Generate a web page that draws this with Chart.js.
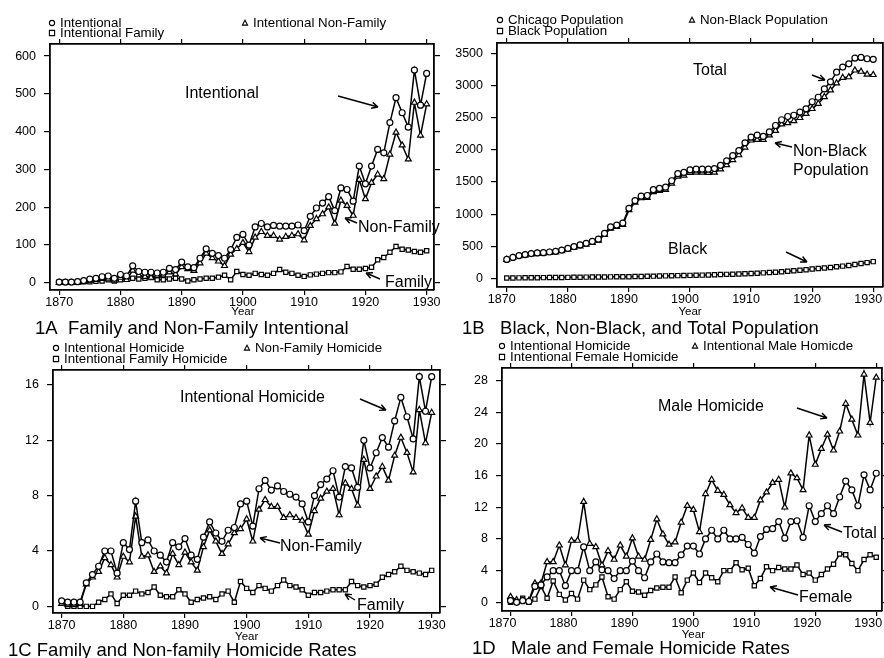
<!DOCTYPE html>
<html>
<head>
<meta charset="utf-8">
<script src="https://cdn.jsdelivr.net/npm/chart.js@4.4.1/dist/chart.umd.min.js"></script>
<style>
  html, body { margin: 0; padding: 0; background: #fff; overflow: hidden; width: 884px; height: 658px; }
  canvas { position: absolute; left: 0; top: 0; }
</style>
</head>
<body>
<canvas id="p1a" width="900" height="680"></canvas>
<canvas id="p1b" width="900" height="680"></canvas>
<canvas id="p1c" width="900" height="680"></canvas>
<canvas id="p1d" width="900" height="680"></canvas>
<script>
// years 1870-1930
const years = [1870, 1871, 1872, 1873, 1874, 1875, 1876, 1877, 1878, 1879,
  1880, 1881, 1882, 1883, 1884, 1885, 1886, 1887, 1888, 1889,
  1890, 1891, 1892, 1893, 1894, 1895, 1896, 1897, 1898, 1899,
  1900, 1901, 1902, 1903, 1904, 1905, 1906, 1907, 1908, 1909,
  1910, 1911, 1912, 1913, 1914, 1915, 1916, 1917, 1918, 1919,
  1920, 1921, 1922, 1923, 1924, 1925, 1926, 1927, 1928, 1929, 1930];
const yearTicks = [1870, 1880, 1890, 1900, 1910, 1920, 1930];

// 1A counts
const intentional = [2, 2, 2, 3, 6, 10, 12, 16, 18, 12,
  22, 18, 45, 30, 28, 28, 26, 28, 38, 35,
  55, 42, 40, 65, 90, 78, 72, 65, 88, 120,
  128, 100, 148, 157, 148, 152, 150, 150, 150, 153,
  138, 176, 198, 211, 228, 191, 251, 247, 216, 309,
  262, 309, 353, 344, 424, 490, 450, 412, 563, 470, 554];
const intentionalNonFamily = [0, 0, 0, 1, 3, 6, 8, 11, 10, 6,
  14, 8, 33, 20, 16, 14, 18, 20, 28, 23,
  42, 37, 32, 52, 78, 66, 57, 45, 75, 90,
  106, 82, 120, 135, 125, 125, 115, 122, 125, 129,
  113, 151, 169, 182, 200, 157, 218, 204, 178, 273,
  222, 265, 287, 275, 340, 398, 364, 327, 477, 390, 473];
const intentionalFamily = [2, 2, 2, 2, 3, 3, 4, 5, 8, 5,
  8, 10, 12, 10, 12, 14, 8, 8, 10, 12,
  10, 5, 8, 10, 12, 12, 15, 20, 8, 30,
  22, 20, 25, 22, 20, 25, 35, 28, 25, 20,
  17, 21, 23, 25, 27, 27, 29, 43, 36, 36,
  38, 41, 61, 67, 81, 96, 89, 87, 83, 81, 85];
const ticks1A = [0, 100, 200, 300, 400, 500, 600];

// 1B population (thousands)
const chicagoPop = [295, 325, 355, 370, 385, 395, 400, 410, 420, 440,
  465, 495, 520, 545, 575, 610, 700, 800, 830, 860,
  1090, 1210, 1280, 1290, 1380, 1400, 1420, 1520, 1630, 1650,
  1690, 1700, 1700, 1700, 1710, 1760, 1830, 1910, 1990, 2110,
  2200, 2230, 2210, 2280, 2380, 2470, 2520, 2540, 2590, 2640,
  2750, 2820, 2950, 3060, 3210, 3290, 3340, 3430, 3440, 3420, 3410];
const nonBlackPop = [290, 320, 348, 362, 376, 385, 390, 398, 407, 426,
  450, 479, 502, 526, 555, 590, 678, 776, 805, 834,
  1064, 1180, 1250, 1256, 1345, 1363, 1380, 1478, 1586, 1604,
  1645, 1650, 1648, 1645, 1650, 1700, 1765, 1845, 1920, 2040,
  2150, 2160, 2160, 2230, 2300, 2400, 2420, 2450, 2500, 2565,
  2640, 2720, 2825, 2930, 3040, 3125, 3135, 3240, 3220, 3175, 3170];
const blackPop = [5, 6, 7, 8, 9, 10, 11, 12, 13, 14,
  15, 16, 18, 19, 20, 21, 22, 23, 24, 25,
  26, 28, 30, 32, 34, 36, 38, 40, 42, 44,
  46, 48, 50, 53, 56, 59, 62, 65, 68, 72,
  76, 80, 85, 90, 96, 102, 110, 118, 126, 135,
  145, 152, 160, 170, 180, 190, 200, 215, 230, 245, 260];
const ticks1B = [0, 500, 1000, 1500, 2000, 2500, 3000, 3500];

// 1C rates
const homRate = [0.4, 0.3, 0.3, 0.3, 1.7, 2.3, 2.9, 4.0, 4.0, 2.4,
  4.6, 4.1, 7.6, 4.6, 4.8, 4.0, 3.7, 3.2, 4.6, 4.3,
  4.9, 3.7, 3.4, 5.0, 6.1, 5.3, 4.7, 5.5, 5.7, 7.4,
  7.6, 5.8, 8.5, 9.1, 8.4, 8.7, 8.3, 8.1, 7.9, 7.4,
  6.1, 8.0, 8.8, 9.2, 9.8, 7.9, 10.1, 10.0, 8.6, 12.0,
  10.0, 11.1, 12.2, 11.5, 13.4, 15.1, 13.7, 12.1, 16.6, 14.1, 16.6];
const nonFamilyRate = [0.2, 0.1, 0.1, 0.2, 1.6, 2.1, 2.5, 3.5, 3.0, 2.1,
  3.6, 3.2, 6.5, 3.6, 3.7, 2.5, 2.9, 2.4, 3.8, 3.0,
  3.9, 3.2, 2.6, 4.3, 5.5, 4.7, 3.8, 4.5, 5.3, 5.6,
  6.3, 4.7, 7.0, 7.7, 7.2, 7.2, 6.4, 6.6, 6.4, 6.2,
  5.2, 6.9, 7.8, 8.3, 8.5, 6.6, 8.9, 8.5, 7.3, 10.6,
  8.5, 9.4, 10.1, 9.1, 10.9, 12.2, 11.1, 9.7, 14.2, 11.8, 14.0];
const familyRate = [0.3, 0.0, 0.0, 0.0, 0.0, 0.0, 0.3, 0.5, 0.9, 0.2,
  0.8, 0.8, 1.1, 0.9, 1.0, 1.4, 0.8, 0.7, 0.7, 1.2,
  0.9, 0.3, 0.5, 0.6, 0.7, 0.5, 0.9, 1.1, 0.3, 1.8,
  1.3, 1.0, 1.5, 1.3, 1.1, 1.5, 1.9, 1.5, 1.4, 1.2,
  0.8, 1.0, 1.0, 1.1, 1.2, 1.2, 1.2, 1.8, 1.5, 1.4,
  1.5, 1.6, 2.1, 2.3, 2.5, 2.9, 2.6, 2.5, 2.4, 2.3, 2.6];
const ticks1C = [0, 4, 8, 12, 16];

// 1D rates
const totalRate = [0.2, 0.0, 0.2, 0.1, 2.0, 2.2, 3.2, 4.0, 4.0, 2.1,
  4.0, 4.0, 7.0, 4.0, 5.1, 4.1, 4.0, 3.0, 4.0, 4.0,
  5.2, 4.0, 3.1, 5.1, 6.1, 5.1, 5.0, 5.0, 6.0, 7.1,
  7.1, 6.1, 8.0, 9.1, 8.0, 9.1, 8.0, 8.0, 8.2, 7.3,
  6.2, 8.3, 9.2, 9.3, 10.2, 8.1, 10.2, 10.3, 8.2, 12.2,
  10.2, 11.2, 12.2, 11.2, 13.3, 15.3, 14.2, 12.2, 16.1, 14.2, 16.3];
const maleRate = [0.7, 0.3, 0.2, 0.2, 2.4, 2.4, 5.1, 5.1, 7.2, 4.7,
  7.8, 7.8, 12.7, 7.4, 7.0, 4.7, 6.5, 5.4, 7.2, 5.8,
  8.1, 5.8, 5.4, 7.9, 10.5, 8.6, 7.3, 7.6, 10.1, 12.2,
  11.7, 8.9, 13.7, 15.5, 14.1, 13.6, 12.3, 11.3, 11.9, 10.7,
  10.7, 12.9, 13.9, 15.1, 15.5, 12.0, 16.3, 15.7, 14.2, 21.1,
  17.4, 19.4, 21.2, 19.2, 21.6, 25.1, 23.1, 21.1, 28.8, 22.7, 28.4];
const femaleRate = [0.0, 0.0, 0.5, 0.0, 0.4, 2.0, 0.5, 2.7, 1.0, 0.3,
  1.1, 0.4, 2.8, 1.6, 2.2, 3.2, 0.7, 0.4, 1.6, 2.6,
  1.4, 1.3, 0.9, 1.5, 1.8, 1.9, 1.9, 3.2, 1.2, 2.8,
  3.7, 2.5, 3.7, 3.1, 2.6, 4.0, 4.0, 5.0, 4.1, 4.3,
  2.1, 3.0, 4.5, 4.0, 4.4, 4.2, 4.2, 4.7, 3.5, 3.7,
  2.8, 3.5, 4.2, 4.8, 6.1, 6.0, 4.9, 4.0, 5.4, 6.0, 5.7];
const ticks1D = [0, 4, 8, 12, 16, 20, 24, 28];

const INK = '#000';
const FONT = '"Liberation Sans", Arial, sans-serif';

function marker(ctx, style, x, y, r) {
  ctx.beginPath();
  if (style === 'circle') {
    ctx.arc(x, y, r, 0, Math.PI * 2);
  } else if (style === 'rect') {
    ctx.rect(x - r, y - r, 2 * r, 2 * r);
  } else {
    ctx.moveTo(x, y - r * 1.1);
    ctx.lineTo(x + r, y + r * 0.8);
    ctx.lineTo(x - r, y + r * 0.8);
    ctx.closePath();
  }
  ctx.fillStyle = '#fff';
  ctx.fill();
  ctx.stroke();
}

function arrow(ctx, x1, y1, x2, y2) {
  ctx.beginPath();
  ctx.moveTo(x1, y1);
  ctx.lineTo(x2, y2);
  const a = Math.atan2(y2 - y1, x2 - x1);
  const h = 7;
  ctx.moveTo(x2, y2);
  ctx.lineTo(x2 - h * Math.cos(a - 0.45), y2 - h * Math.sin(a - 0.45));
  ctx.moveTo(x2, y2);
  ctx.lineTo(x2 - h * Math.cos(a + 0.45), y2 - h * Math.sin(a + 0.45));
  ctx.stroke();
}

const deco = {
  id: 'deco',
  afterDraw(chart, args, o) {
    const ctx = chart.ctx;
    ctx.save();
    ctx.strokeStyle = INK;
    ctx.lineWidth = 1.2;
    ctx.textBaseline = 'middle';
    // axis title
    ctx.fillStyle = INK;
    ctx.textAlign = 'center';
    ctx.font = '11.5px ' + FONT;
    ctx.fillText('Year', chart.scales.x.getPixelForValue(1900), o.yearY);
    // caption
    ctx.textAlign = 'left';
    ctx.font = '18.5px ' + FONT;
    ctx.fillText(o.caption, o.capX, o.capY);
    // legend
    ctx.font = '13.3px ' + FONT;
    o.legend.forEach(it => {
      ctx.lineWidth = 1.1;
      marker(ctx, it.style, it.x, it.y, 2.6);
      ctx.fillStyle = INK;
      ctx.fillText(it.label, it.x + 8, it.y);
    });
    // notes
    ctx.font = '16px ' + FONT;
    ctx.lineWidth = 1.4;
    o.notes.forEach(n => {
      n.lines.forEach((t, i) => ctx.fillText(t, n.x, n.y + i * 19));
      arrow(ctx, n.ax[0], n.ax[1], n.ax[2], n.ax[3]);
    });
    ctx.restore();
  }
};

function axis(pos, min, max, tickVals, size, showLabels, fontSize, shift) {
  const horiz = pos === 'top' || pos === 'bottom';
  return {
    type: 'linear',
    position: pos,
    min: min,
    max: max,
    afterBuildTicks: s => { s.ticks = tickVals.map(v => ({ value: v })); },
    afterFit: s => { if (horiz) s.height = size; else s.width = size; },
    grid: { drawOnChartArea: false, drawTicks: true, tickLength: horiz ? 5 : 6, color: INK, lineWidth: 1.2 },
    border: { display: true, color: INK, width: 1.8 },
    ticks: {
      display: showLabels,
      color: INK,
      font: { family: FONT, size: fontSize },
      padding: horiz ? 0 : 8,
      labelOffset: shift || 0,
      maxRotation: 0,
      autoSkip: false,
      callback: v => String(v)
    }
  };
}

function makePanel(id, p) {
  const W = 900, H = 680;
  const yW = 45, y2W = 7, xH = 26, x2H = 6;
  new Chart(document.getElementById(id), {
    type: 'line',
    data: {
      datasets: p.series.map(s => ({
        label: s.label,
        data: years.map((yr, i) => ({ x: yr, y: s.data[i] })),
        borderColor: INK,
        borderWidth: 1.5,
        pointStyle: s.style,
        pointRadius: s.style === 'triangle' ? 3.4 : 3,
        pointBorderWidth: 1.2,
        pointBackgroundColor: '#fff',
        pointBorderColor: INK,
        tension: 0
      }))
    },
    options: {
      responsive: false,
      animation: false,
      layout: {
        padding: {
          left: p.frame[0] - yW,
          top: p.frame[1] - x2H,
          right: W - p.frame[2] - y2W,
          bottom: H - p.frame[3] - xH
        }
      },
      scales: {
        x: axis('bottom', p.xMin, p.xMax, yearTicks, xH, true, 12.5, p.labelShift),
        x2: axis('top', p.xMin, p.xMax, yearTicks, x2H, false, 12),
        y: axis('left', p.yMin, p.yMax, p.yTicks, yW, true, 12.5),
        y2: axis('right', p.yMin, p.yMax, p.yTicks, y2W, false, 12)
      },
      plugins: {
        legend: { display: false },
        tooltip: { enabled: false },
        deco: {
          caption: p.caption, capX: p.capX, capY: p.capY, yearY: p.yearY,
          legend: p.legend, notes: p.notes
        }
      }
    },
    plugins: [deco]
  });
}

makePanel('p1a', {
  frame: [50, 44, 434, 290],
  xMin: 1868.5, xMax: 1931.2, yMin: -19, yMax: 632, yTicks: ticks1A,
  series: [
    { label: 'Intentional', data: intentional, style: 'circle' },
    { label: 'Intentional Non-Family', data: intentionalNonFamily, style: 'triangle' },
    { label: 'Intentional Family', data: intentionalFamily, style: 'rect' }
  ],
  caption: '1A  Family and Non-Family Intentional', capX: 35, capY: 329, yearY: 312,
  legend: [
    { label: 'Intentional', style: 'circle', x: 52, y: 23 },
    { label: 'Intentional Family', style: 'rect', x: 52, y: 33 },
    { label: 'Intentional Non-Family', style: 'triangle', x: 245, y: 23 }
  ],
  notes: [
    { lines: ['Intentional'], x: 185, y: 94, ax: [338, 96, 378, 107] },
    { lines: ['Non-Family'], x: 358, y: 228, ax: [357, 223, 345, 218] },
    { lines: ['Family'], x: 385, y: 283, ax: [380, 279, 366, 273] }
  ]
});

makePanel('p1b', {
  frame: [497, 43, 883, 287],
  xMin: 1868.4, xMax: 1931.6, yMin: -135, yMax: 3665, yTicks: ticks1B,
  labelShift: -5,
  series: [
    { label: 'Chicago Population', data: chicagoPop, style: 'circle' },
    { label: 'Non-Black Population', data: nonBlackPop, style: 'triangle' },
    { label: 'Black Population', data: blackPop, style: 'rect' }
  ],
  caption: '1B   Black, Non-Black, and Total Population', capX: 462, capY: 329, yearY: 312,
  legend: [
    { label: 'Chicago Population', style: 'circle', x: 500, y: 20 },
    { label: 'Black Population', style: 'rect', x: 500, y: 31 },
    { label: 'Non-Black Population', style: 'triangle', x: 692, y: 20 }
  ],
  notes: [
    { lines: ['Total'], x: 693, y: 71, ax: [812, 75, 825, 80] },
    { lines: ['Non-Black', 'Population'], x: 793, y: 152, ax: [792, 147, 775, 143] },
    { lines: ['Black'], x: 668, y: 250, ax: [786, 252, 807, 262] }
  ]
});

makePanel('p1c', {
  frame: [53, 370, 440, 613],
  xMin: 1868.6, xMax: 1931.35, yMin: -0.48, yMax: 17.08, yTicks: ticks1C,
  series: [
    { label: 'Intentional Homicide', data: homRate, style: 'circle' },
    { label: 'Non-Family Homicide', data: nonFamilyRate, style: 'triangle' },
    { label: 'Intentional Family Homicide', data: familyRate, style: 'rect' }
  ],
  caption: '1C Family and Non-family Homicide Rates', capX: 8, capY: 651, yearY: 637,
  legend: [
    { label: 'Intentional Homicide', style: 'circle', x: 56, y: 348 },
    { label: 'Intentional Family Homicide', style: 'rect', x: 56, y: 359 },
    { label: 'Non-Family Homicide', style: 'triangle', x: 247, y: 348 }
  ],
  notes: [
    { lines: ['Intentional Homicide'], x: 180, y: 398, ax: [360, 399, 386, 410] },
    { lines: ['Non-Family'], x: 280, y: 547, ax: [280, 543, 260, 538] },
    { lines: ['Family'], x: 357, y: 606, ax: [355, 600, 345, 594] }
  ]
});

makePanel('p1d', {
  frame: [502, 368, 882, 611],
  xMin: 1868.6, xMax: 1930.95, yMin: -1.1, yMax: 29.6, yTicks: ticks1D,
  labelShift: -8,
  series: [
    { label: 'Intentional Homicide', data: totalRate, style: 'circle' },
    { label: 'Intentional Male Homicde', data: maleRate, style: 'triangle' },
    { label: 'Intentional Female Homicide', data: femaleRate, style: 'rect' }
  ],
  caption: '1D   Male and Female Homicide Rates', capX: 472, capY: 649, yearY: 635,
  legend: [
    { label: 'Intentional Homicide', style: 'circle', x: 502, y: 346 },
    { label: 'Intentional Female Homicide', style: 'rect', x: 502, y: 357 },
    { label: 'Intentional Male Homicde', style: 'triangle', x: 695, y: 346 }
  ],
  notes: [
    { lines: ['Male Homicide'], x: 658, y: 407, ax: [797, 408, 827, 418] },
    { lines: ['Total'], x: 843, y: 534, ax: [842, 532, 824, 525] },
    { lines: ['Female'], x: 799, y: 598, ax: [798, 595, 770, 587] }
  ]
});
</script>
</body>
</html>
